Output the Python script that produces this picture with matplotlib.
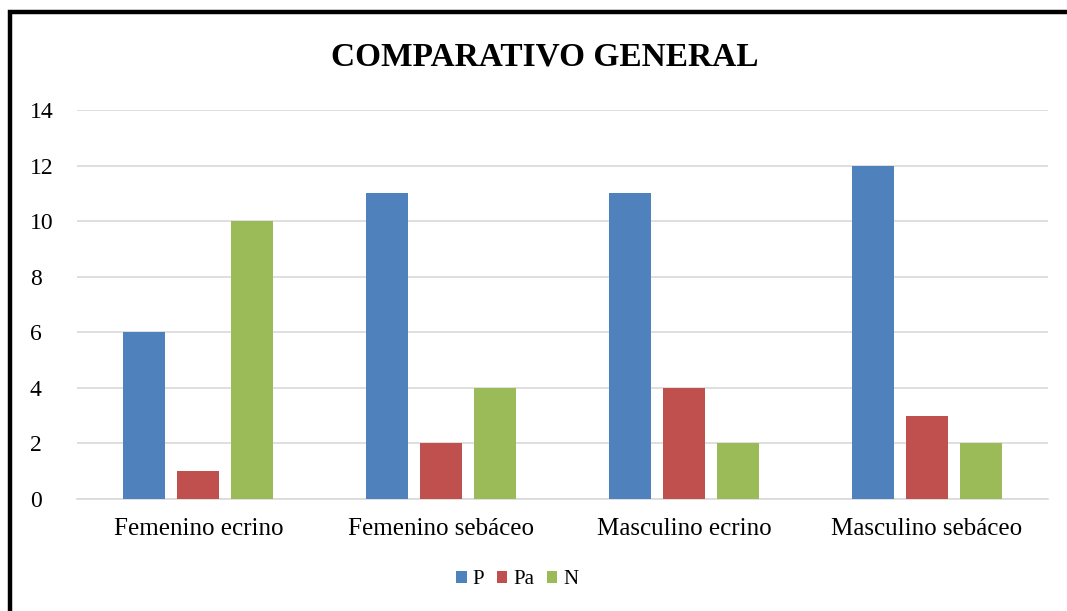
import matplotlib
matplotlib.use('Agg')
import matplotlib.pyplot as plt
import numpy as np
from matplotlib.patches import Rectangle

categories = ['Femenino ecrino', 'Femenino sebáceo', 'Masculino ecrino', 'Masculino sebáceo']
series_names = ['P', 'Pa', 'N']
p_vals = [6, 11, 11, 12]
pa_vals = [1, 2, 4, 3]
n_vals = [10, 4, 2, 2]
yticks = [0, 2, 4, 6, 8, 10, 12, 14]

colors = ['#4F81BD', '#C0504D', '#9BBB59']

plt.rcParams['font.family'] = ['Liberation Serif', 'DejaVu Serif']

fig = plt.figure(figsize=(10.67, 6.11), dpi=100)
ax = fig.add_axes([77 / 1067, 0.1833, 971 / 1067, 0.6367])

x = np.arange(len(categories))
w = 0.173
step = 0.2225
for i, vals in enumerate([p_vals, pa_vals, n_vals]):
    ax.bar(x + (i - 1) * step, vals, width=w, color=colors[i], label=series_names[i], zorder=3)

ax.set_xlim(-0.5, len(categories) - 0.5)
ax.set_ylim(0, 14)
ax.set_yticks(yticks)
ax.set_xticks(x)
ax.set_xticklabels(categories, fontsize=18)
ax.tick_params(axis='y', labelsize=17, length=0, pad=34)
ax.tick_params(axis='x', length=0, pad=14)
for lab in ax.get_yticklabels():
    lab.set_horizontalalignment('left')
ax.yaxis.grid(True, color='#d9d9d9', linewidth=1.2, zorder=0)
for s in ['top', 'right', 'left']:
    ax.spines[s].set_visible(False)
ax.spines['bottom'].set_color('#d9d9d9')
ax.spines['bottom'].set_linewidth(1.2)

fig.text(0.511, 0.907, 'COMPARATIVO GENERAL', ha='center', va='center',
         fontsize=24, fontweight='bold')

fig.legend(loc='center', bbox_to_anchor=(0.485, 0.051), ncol=3, frameon=False,
           fontsize=15, handlelength=0.5, handleheight=0.5, handletextpad=0.3,
           columnspacing=0.6)

# outer frame (top and left edges visible, rest runs off the image)
fig.patches.append(Rectangle((10 / 1067, -0.1), 1.2, 1 - 12 / 611 + 0.1,
                             transform=fig.transFigure, fill=False,
                             edgecolor='black', linewidth=3.2))

fig.savefig('out.png', dpi=100)
